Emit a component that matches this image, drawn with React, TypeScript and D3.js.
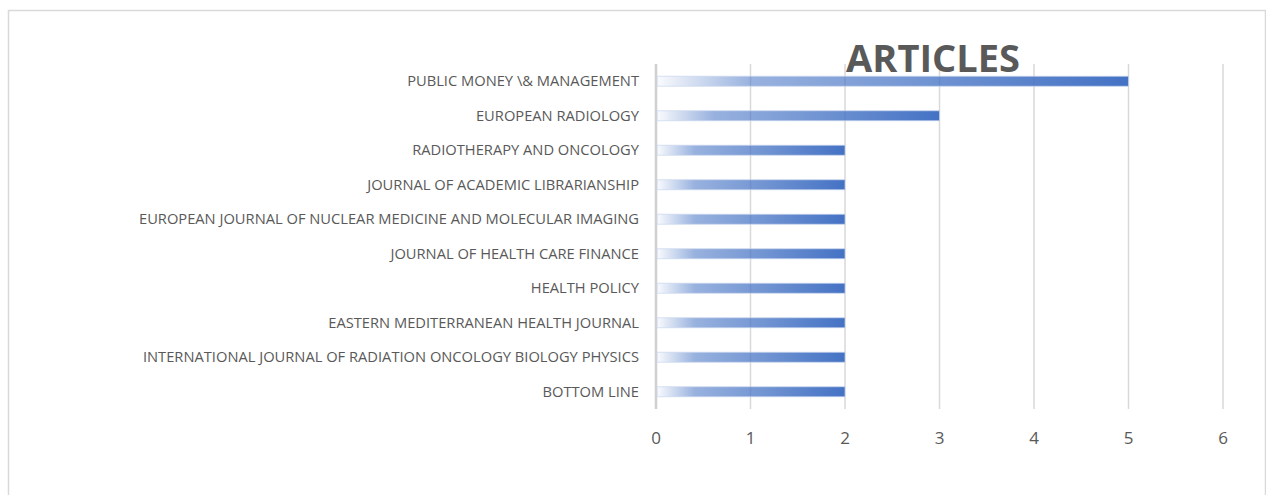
import * as d3 from "d3";
import React, { useEffect, useRef } from "react";

const journals = [
  "PUBLIC MONEY \\& MANAGEMENT",
  "EUROPEAN RADIOLOGY",
  "RADIOTHERAPY AND ONCOLOGY",
  "JOURNAL OF ACADEMIC LIBRARIANSHIP",
  "EUROPEAN JOURNAL OF NUCLEAR MEDICINE AND MOLECULAR IMAGING",
  "JOURNAL OF HEALTH CARE FINANCE",
  "HEALTH POLICY",
  "EASTERN MEDITERRANEAN HEALTH JOURNAL",
  "INTERNATIONAL JOURNAL OF RADIATION ONCOLOGY BIOLOGY PHYSICS",
  "BOTTOM LINE",
];
const articles = [5, 3, 2, 2, 2, 2, 2, 2, 2, 2];
const xTicks = [0, 1, 2, 3, 4, 5, 6];
const title = "ARTICLES";

const FONT = "'Open Sans', 'Noto Sans', sans-serif";
const TEXT = "#595959";
const BLUE = "#4472C4";

export default function App() {
  const svgRef = useRef<SVGSVGElement>(null);

  useEffect(() => {
    const W = 1266;
    const H = 495;
    const svg = d3.select(svgRef.current);
    svg.selectAll("*").remove();

    // gradient for bars (fades in from the left)
    const defs = svg.append("defs");
    const grad = defs.append("linearGradient")
      .attr("id", "barGrad")
      .attr("x1", "0").attr("x2", "1").attr("y1", "0").attr("y2", "0");
    grad.append("stop").attr("offset", "0%").attr("stop-color", BLUE).attr("stop-opacity", 0.03);
    grad.append("stop").attr("offset", "20%").attr("stop-color", BLUE).attr("stop-opacity", 0.55);
    grad.append("stop").attr("offset", "100%").attr("stop-color", BLUE).attr("stop-opacity", 1);

    // chart border
    svg.append("rect")
      .attr("x", 8.5).attr("y", 10.5)
      .attr("width", 1257).attr("height", 500)
      .attr("fill", "#fff")
      .attr("stroke", "#d9d9d9")
      .attr("stroke-width", 1.5);

    const x = d3.scaleLinear().domain([0, 6]).range([656, 1223]);
    const y = d3.scaleBand<string>().domain(journals).range([64, 409]).paddingInner(0.71).paddingOuter(0.355);

    // gridlines
    svg.append("g")
      .selectAll("line")
      .data(xTicks)
      .join("line")
      .attr("x1", d => x(d)).attr("x2", d => x(d))
      .attr("y1", 64).attr("y2", 409)
      .attr("stroke", d => (d === 0 ? "#d0d0d0" : "#d9d9d9"))
      .attr("stroke-width", d => (d === 0 ? 2.5 : 1.5));

    // bars
    svg.append("g")
      .selectAll("rect")
      .data(journals)
      .join("rect")
      .attr("x", x(0) + 1)
      .attr("y", d => y(d)!)
      .attr("width", (d, i) => x(articles[i]) - x(0) - 1)
      .attr("height", y.bandwidth())
      .attr("fill", "url(#barGrad)")
      .attr("stroke", "#c9d6ee")
      .attr("stroke-opacity", 0.7)
      .attr("stroke-width", 1);

    // category labels
    svg.append("g")
      .selectAll("text")
      .data(journals)
      .join("text")
      .attr("x", 639)
      .attr("y", d => y(d)! + y.bandwidth() / 2)
      .attr("dy", "0.35em")
      .attr("text-anchor", "end")
      .attr("font-family", FONT)
      .attr("font-size", 14.7)
      .attr("fill", TEXT)
      .text(d => d);

    // tick labels
    svg.append("g")
      .selectAll("text")
      .data(xTicks)
      .join("text")
      .attr("x", d => x(d))
      .attr("y", 444)
      .attr("text-anchor", "middle")
      .attr("font-family", FONT)
      .attr("font-size", 17)
      .attr("fill", TEXT)
      .text(d => d);

    // title
    svg.append("text")
      .attr("x", 933)
      .attr("y", 72)
      .attr("text-anchor", "middle")
      .attr("font-family", FONT)
      .attr("font-weight", "bold")
      .attr("font-size", 38)
      .attr("fill", TEXT)
      .text(title);

    svg.attr("width", W).attr("height", H);
  }, []);

  return (
    <svg
      ref={svgRef}
      width={1266}
      height={495}
      style={{ position: "absolute", left: 0, top: 0, display: "block" }}
    />
  );
}
